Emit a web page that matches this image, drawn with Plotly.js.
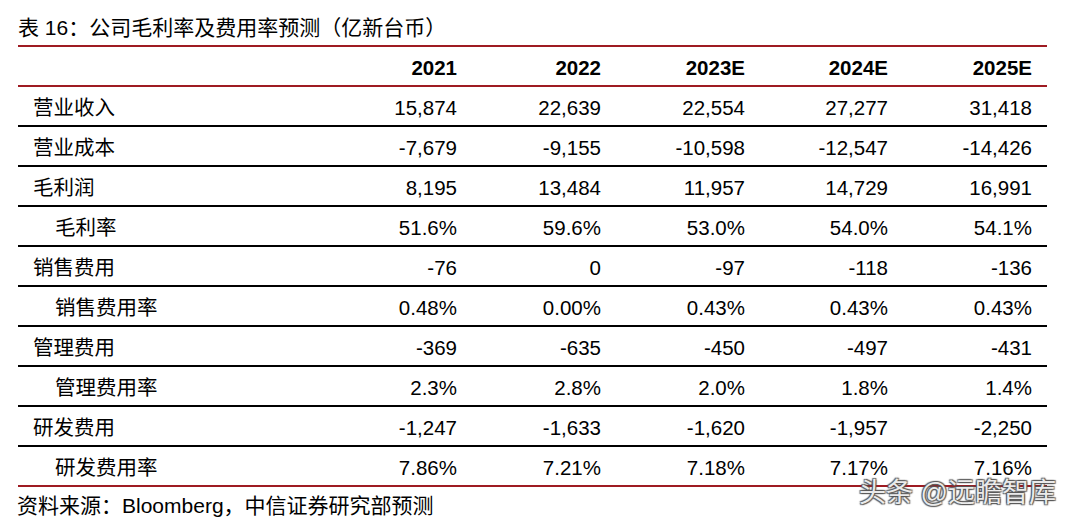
<!DOCTYPE html>
<html>
<head>
<meta charset="utf-8">
<script src="https://cdn.plot.ly/plotly-3.0.1.min.js"></script>
<style>html,body{margin:0;padding:0;background:#fff;}#chart{width:1073px;height:527px;}</style>
</head>
<body>
<div id="chart"></div>
<script>
// ---- data ----
var years = ["2021", "2022", "2023E", "2024E", "2025E"];
var rowLabels = ["营业收入", "营业成本", "毛利润", "毛利率", "销售费用", "销售费用率", "管理费用", "管理费用率", "研发费用", "研发费用率"];
var rowIndent = [false, false, false, true, false, true, false, true, false, true];
var v2021  = ["15,874", "-7,679", "8,195", "51.6%", "-76", "0.48%", "-369", "2.3%", "-1,247", "7.86%"];
var v2022  = ["22,639", "-9,155", "13,484", "59.6%", "0", "0.00%", "-635", "2.8%", "-1,633", "7.21%"];
var v2023E = ["22,554", "-10,598", "11,957", "53.0%", "-97", "0.43%", "-450", "2.0%", "-1,620", "7.18%"];
var v2024E = ["27,277", "-12,547", "14,729", "54.0%", "-118", "0.43%", "-497", "1.8%", "-1,957", "7.17%"];
var v2025E = ["31,418", "-14,426", "16,991", "54.1%", "-136", "0.43%", "-431", "1.4%", "-2,250", "7.16%"];
var titleText = "表 16：公司毛利率及费用率预测（亿新台币）";
var sourceText = "资料来源：Bloomberg，中信证券研究部预测";
var watermark = "头条 @远瞻智库";

// ---- layout constants ----
var colRight = [457, 601, 745, 888, 1032];
var labelX = 33, indentX = 55;
var lineLeft = 18, lineRight = 1047;
var red = "#9e1b22";
var FONT = "Liberation Sans, Arial, Noto Sans CJK SC, sans-serif";
var FS = 20.5;
var textOffset = 0.1; // small downward nudge of text within rows
var cols = [v2021, v2022, v2023E, v2024E, v2025E];
var nRows = rowLabels.length;
var rowY = rowLabels.map(function (_, i) { return i + textOffset; });

var traces = [];
// label column
traces.push({
  type: "scatter", mode: "text", hoverinfo: "skip", showlegend: false,
  x: rowIndent.map(function (d) { return d ? indentX : labelX; }),
  y: rowY,
  text: rowLabels,
  textposition: "middle right",
  textfont: { family: FONT, size: FS, color: "#000" }
});
// header
traces.push({
  type: "scatter", mode: "text", hoverinfo: "skip", showlegend: false,
  x: colRight, y: years.map(function () { return -1 + textOffset; }),
  text: years.map(function (y) { return "<b>" + y + "</b>"; }),
  textposition: "middle left",
  textfont: { family: FONT, size: FS, color: "#000" }
});
// value columns
cols.forEach(function (vals, j) {
  traces.push({
    type: "scatter", mode: "text", hoverinfo: "skip", showlegend: false,
    x: vals.map(function () { return colRight[j]; }),
    y: rowY,
    text: vals,
    textposition: "middle left",
    textfont: { family: FONT, size: FS, color: "#000" }
  });
});

var shapes = [];
function hline(y, color) {
  shapes.push({ type: "line", xref: "x", yref: "y", x0: lineLeft, x1: lineRight, y0: y, y1: y,
    line: { color: color, width: 2.2 } });
}
hline(-1.5, red);
hline(-0.5, red);
for (var i = 0; i < nRows - 1; i++) hline(i + 0.5, "#000");
hline(nRows - 0.5, red);

// y pixel mapping: row i center at 106 + 40*i
var yTop = (0 - 106) / 40, yBot = (527 - 106) / 40;

var layout = {
  width: 1073, height: 527,
  margin: { l: 0, r: 0, t: 0, b: 0 },
  paper_bgcolor: "#fff", plot_bgcolor: "#fff",
  xaxis: { range: [0, 1073], visible: false, fixedrange: true },
  yaxis: { range: [yBot, yTop], visible: false, fixedrange: true },
  shapes: shapes,
  annotations: [
    { xref: "x", yref: "y", x: 16, y: (27 - 106) / 40, text: titleText, showarrow: false,
      xanchor: "left", yanchor: "middle", font: { family: FONT, size: 21, color: "#000" } },
    { xref: "x", yref: "y", x: 15, y: (505 - 106) / 40, text: sourceText, showarrow: false,
      xanchor: "left", yanchor: "middle", font: { family: FONT, size: 21, color: "#000" } },
    { xref: "x", yref: "y", x: 1058, y: (493 - 106) / 40, text: watermark, showarrow: false,
      xanchor: "right", yanchor: "middle", font: { family: FONT, size: 27, color: "rgba(255,255,255,0.9)",
      shadow: "1px 1px 1px #555, -1px -1px 1px #555, 1px -1px 1px #555, -1px 1px 1px #555" } }
  ]
};

Plotly.newPlot("chart", traces, layout, { displayModeBar: false, staticPlot: true });
</script>
</body>
</html>
